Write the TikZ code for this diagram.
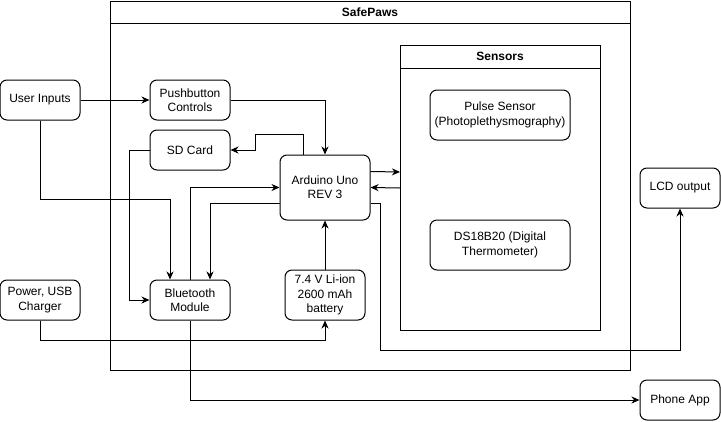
\documentclass[tikz,border=0pt]{standalone}
\usepackage{fontspec}
\setmainfont{Liberation Sans}
\usetikzlibrary{arrows.meta,calc}
\begin{document}
\begin{tikzpicture}[x=1pt,y=-1pt,
  line width=1pt,
  every node/.style={font=\fontsize{12}{14.4}\selectfont},
  box/.style={draw, rounded corners=7pt, align=center, inner sep=0pt, minimum width=80pt, minimum height=40pt},
  frame/.style={draw, inner sep=0pt, anchor=north west},
  title/.style={font=\fontsize{12}{14.4}\selectfont\bfseries, inner sep=0pt},
  conn/.style={-{Stealth[length=8pt,width=7pt,inset=2.5pt]}}
]
\useasboundingbox (0,0) rectangle (721,421);

% containers
\node[frame, minimum width=520pt, minimum height=369pt] (safe) at (110,1) {};
\draw (110,23) coordinate (sh1) -- (630,23) coordinate (sh2);
\node[title] (safet) at (370,12) {SafePaws};
\node[frame, minimum width=200pt, minimum height=285pt] (sens) at (400,45) {};
\draw (400,68) coordinate (se1) -- (600,68) coordinate (se2);
\node[title] (senst) at (500,56.5) {Sensors};

% nodes
\node[box] (ui) at (40,100) {User Inputs};
\node[box] (pw) at (40,300) {Power, USB\\Charger};
\node[box] (pb) at (190,100) {Pushbutton\\Controls};
\node[box] (sd) at (190,150) {SD Card};
\node[box, minimum width=90pt, minimum height=65pt] (ard) at (325,187.5) {Arduino Uno\\REV 3};
\node[box] (bt) at (190,300) {Bluetooth\\Module};
\node[box, minimum height=50pt] (bat) at (325,295) {7.4 V Li-ion\\2600 mAh\\battery};
\node[box, minimum width=140pt, minimum height=50pt] (pulse) at (500,115) {Pulse Sensor\\(Photoplethysmography)};
\node[box, minimum width=140pt, minimum height=50pt] (ds) at (500,245) {DS18B20 (Digital\\Thermometer)};
\node[box] (lcd) at (680,188) {LCD output};
\node[box] (app) at (680,400) {Phone App};

% connectors
\draw[conn] (ui.east) -- (pb.west);
\draw[conn] (pb.east) -| (ard.north);
\draw[conn] ($(ard.north)+(-22,0)$) -- ++(0,-20) -| ($(sd.east)+(25,0)$) -- (sd.east);
\draw[conn] (sd.west) -- ++(-20,0) |- (bt.west);
\draw[conn] (ui.south) |- ($(bt.north)+(-20,-80)$) -- ($(bt.north)+(-20,0)$);
\draw[conn] (bt.north) |- (ard.west);
\draw[conn] ($(ard.west)+(0,16)$) -| ($(bt.north)+(20,0)$);
\draw[conn] (bat.north) -- (ard.south);
\draw[conn] (pw.south) -- ++(0,20) -| (bat.south);
\draw[conn] ($(ard.east)+(0,-16)$) -- ($(sens.west)+(0,-16)$);
\draw[conn] (sens.west) -- (ard.east);
\draw[conn] ($(ard.east)+(0,16)$) -- ++(10,0) |- ($(lcd.south)+(0,142)$) -- (lcd.south);
\draw[conn] (bt.south) |- (app.west);
\end{tikzpicture}
\end{document}
